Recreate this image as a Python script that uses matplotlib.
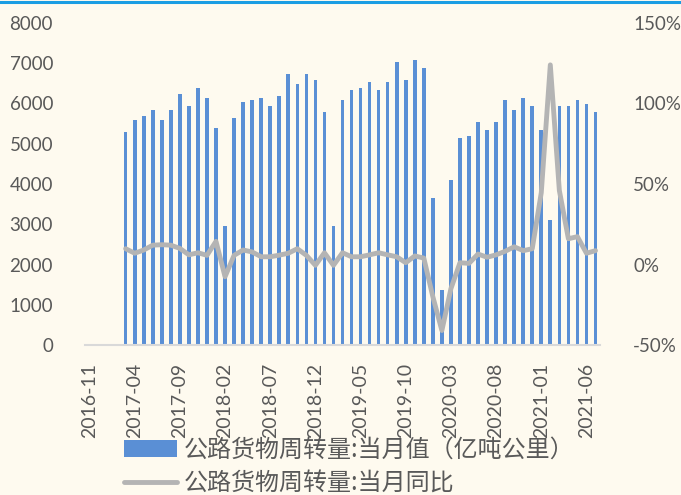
import numpy as np
import pandas as pd
from matplotlib import pyplot as plt
from matplotlib.lines import Line2D

plt.rcParams['font.family'] = ['Lato', 'DejaVu Sans']

# axis months 2016-11 .. 2021-07, data from 2017-03
months = [str(p) for p in pd.period_range('2016-11', '2021-07', freq='M')]
data_start = '2017-03'

volume = [
  5300, 5590, 5690, 5840, 5590, 5840, 6240, 5940, 6390, 6140,
  5390, 2960, 5640, 6040, 6090, 6140, 5940, 6190, 6730, 6480, 6730, 6580,
  5790, 2960, 6090, 6340, 6390, 6530, 6340, 6530, 7030, 6580, 7080, 6880,
  3650, 1370, 4100, 5140, 5190, 5540, 5340, 5540, 6090, 5840, 6140, 5940,
  5340, 3110, 5940, 5940, 6090, 5990, 5790,
]
yoy = [
  9.8, 7.0, 9.0, 12.0, 12.3, 12.0, 10.0, 6.0, 7.3, 5.7,
  14.4, -7.6, 5.7, 9.0, 7.8, 4.8, 4.8, 5.8, 7.0, 9.8, 5.7, -0.5,
  7.3, -0.5, 7.3, 4.8, 4.8, 6.0, 7.3, 6.0, 4.8, 1.1, 5.3, 4.0,
  -20.0, -41.0, -15.0, 1.1, 0.7, 6.5, 4.5, 6.0, 8.2, 11.0, 8.6, 9.8,
  44.6, 124.0, 46.0, 16.0, 17.3, 7.0, 8.6,
]

label_vol = '公路货物周转量:当月值（亿吨公里）'
label_yoy = '公路货物周转量:当月同比'

bg = '#fefaef'
txt = '#595959'

i0 = months.index(data_start)
xd = np.arange(i0, i0 + len(volume))

fig = plt.figure(figsize=(6.81, 4.95), dpi=100, facecolor=bg)
ax = fig.add_axes([85/681, 1-345/495, 515/681, 322/495])
ax.set_facecolor(bg)
ax2 = ax.twinx()

b = ax.bar(xd, volume, width=0.4, color='#5a8fd5', label=label_vol, zorder=2)
l, = ax2.plot(xd, yoy, color='#b4b4b4', linewidth=3.5, label=label_yoy,
  solid_joinstyle='round', solid_capstyle='round', zorder=3)

ax.set_xlim(-0.5, len(months)-0.5)
ax.set_ylim(0, 8000)
ax.set_yticks(range(0, 8001, 1000))
ax2.set_ylim(-50, 150)
ax2.set_yticks(range(-50, 151, 50))
ax2.set_yticklabels(['%d%%' % v for v in range(-50, 151, 50)])

tick_pos = list(range(0, len(months), 5))
ax.set_xticks(tick_pos)
ax.set_xticklabels([months[i] for i in tick_pos], rotation=90)

for a in (ax, ax2):
  for s in a.spines.values():  s.set_visible(False)
  a.tick_params(length=0, colors=txt, labelsize=13.5)
ax.spines['bottom'].set_visible(True)
ax.spines['bottom'].set_color('#d9d9d9')
ax.spines['bottom'].set_linewidth(1.5)
ax.tick_params(axis='x', labelsize=14, pad=13)
ax.tick_params(axis='y', pad=23)
ax2.tick_params(axis='y', pad=24)

leg = fig.legend([b, l], [label_vol, label_yoy],
  loc='upper left', bbox_to_anchor=(124/681, 1-437/495),
  frameon=False, borderpad=0, borderaxespad=0,
  handlelength=2.2, handletextpad=0.3, labelspacing=0.3,
  prop={'family': ['Noto Sans CJK SC', 'DejaVu Sans'], 'size': 17.3})
for t in leg.get_texts():  t.set_color(txt)

fig.add_artist(Line2D([0, 1], [1-1.5/495, 1-1.5/495], color='#1a9de3', linewidth=2.2))

plt.savefig('out.png', dpi=100, facecolor=bg)
